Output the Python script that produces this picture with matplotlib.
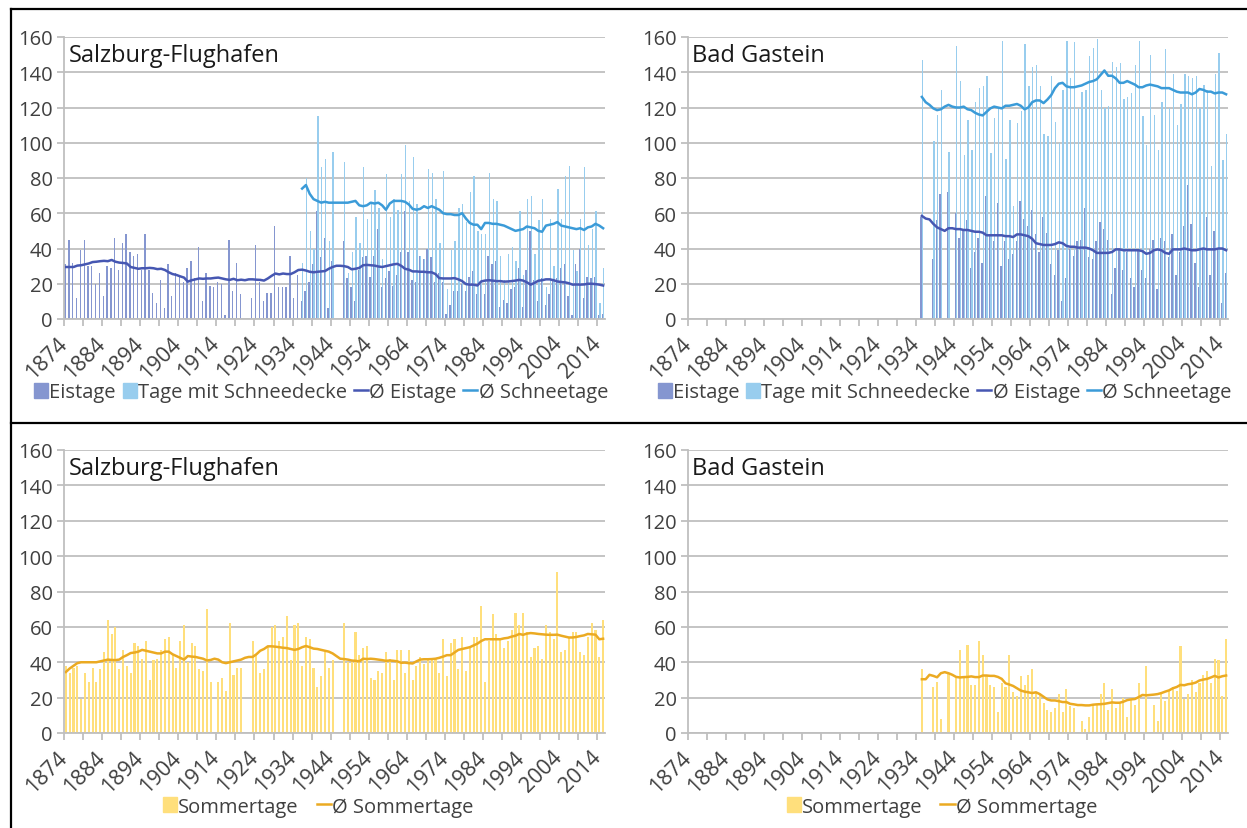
import numpy as np
import matplotlib.pyplot as plt
from matplotlib.lines import Line2D
from matplotlib.patches import Patch

nan = np.nan

# years of the category axis
years = np.arange(1874, 2016)
years_bg = np.arange(1935, 2016)
years_sbg_snow = np.arange(1936, 2016)

# Salzburg-Flughafen, Eistage (1874-2015)
sbg_eis = [
    31, 45, 32, 12, 39, 45, 30, 30, 20, 26,
    13, 30, 29, 46, 28, 43, 48, 38, 36, 37,
    28, 48, 28, 15, 9, 22, 6, 31, 13, 26,
    24, 21, 29, 33, 23, 41, 10, 26, 19, 18,
    21, 20, 2, 45, 16, 32, 14, nan, nan, 12,
    42, 21, 10, 15, 15, 53, 18, 18, 18, 36,
    12, 25, 10, 16, 21, 31, 61, 35, 46, 6,
    33, nan, nan, 44, 23, 18, 10, 28, 35, 36,
    24, 36, 51, 18, 23, 27, 19, 25, 38, 61,
    38, 22, 21, 36, 34, 40, 35, 21, 26, 21,
    3, 8, 16, 16, 20, 16, 24, 27, 14, 20,
    14, 36, 31, 33, 7, 11, 9, 17, 18, 29,
    7, 28, 50, 22, 10, 23, 8, 14, 22, 23,
    29, 31, 13, 2, 31, 40, 12, 24, 23, 24,
    2, 3,
]
# Salzburg-Flughafen, Tage mit Schneedecke (1936-2015)
sbg_snow = [
    32, 80, 50, 40, 115, 86, 91, 44, 95, nan,
    nan, 89, 26, 38, 58, 43, 86, 57, 66, 73,
    63, 34, 82, 58, 68, 62, 82, 99, 67, 92,
    65, 36, 34, 85, 83, 68, 43, 84, 17, 39,
    44, 63, 65, 55, 72, 81, 50, 48, 48, 83,
    68, 67, 36, 22, 37, 41, 33, 61, 25, 68,
    70, 37, 56, 68, 18, 57, 30, 74, 57, 81,
    87, 39, 27, 57, 86, 42, 51, 61, 9, 29,
]
sbg_eis_avg = [
    29.5, 29.5, 29.5, 30.3, 30.5, 31, 31.5, 32.3, 32.5, 32.8,
    33, 32.8, 33.5, 32.5, 32, 31.8, 31.5, 29.5, 29, 28.5,
    28.8, 28.8, 29, 28.8, 28.3, 28.5, 27.8, 26.5, 25.5, 25,
    24.2, 23.5, 21.2, 22, 22.5, 23, 22.8, 23, 23, 23.3,
    23.5, 23, 22.5, 22.2, 22.8, 22, 22.3, 22, 22.5, 22.5,
    22.3, 22.2, 21.8, 23, 24.5, 25.8, 25.3, 25.8, 25.5, 25.5,
    26.5, 27.8, 28, 27.5, 26.8, 26.5, 26.8, 27, 27.2, 28.5,
    29.5, 30.2, 30.2, 30, 29.5, 28.2, 28.5, 29, 30.5, 30.7,
    30.5, 30.3, 29.8, 29.5, 30, 30.5, 31, 31.3, 30.2, 28.5,
    28, 27, 27, 26.8, 26.8, 26.5, 26.5, 25.5, 23.2, 23,
    23, 23, 23.2, 22.5, 21.5, 19.8, 19.5, 19.5, 19, 21.3,
    21.8, 22, 21.8, 21.5, 21.5, 21.2, 21.3, 21.5, 21.8, 22.2,
    21.8, 20.8, 19.5, 20.5, 21.7, 22, 22.5, 22.5, 22, 21.3,
    21, 20.8, 20.3, 19.5, 19.6, 19.5, 19.6, 20, 20, 19.8,
    19.5, 19,
]
sbg_snow_avg = [
    74, 76, 71, 68, 67, 66, 66.5, 66, 66, 66,
    66, 66, 66, 66.5, 67, 64.5, 64, 64.5, 66, 65.5,
    66, 64.5, 62, 65.5, 67, 67, 67, 66.5, 65, 62.5,
    62, 62.5, 64, 63, 64, 63, 62, 60, 59.5, 59.5,
    59, 59, 60, 57, 54.5, 53.5, 53.5, 51, 54.5, 54.5,
    54, 54, 53.5, 53, 52, 51, 50, 50.5, 51, 52.5,
    52, 51.5, 50, 49.5, 53, 53.5, 54, 55, 53, 52.5,
    52, 51.5, 51, 51.5, 50.5, 52, 52.5, 54, 53, 51.5,
]
# Salzburg-Flughafen, Sommertage (1874-2015)
sbg_sommer = [
    38, 34, 37, 38, 19, 34, 29, 37, 29, 36,
    46, 64, 56, 60, 36, 47, 38, 34, 51, 49,
    42, 52, 30, 41, 42, 47, 53, 54, 44, 37,
    52, 61, 40, 51, 49, 36, 35, 70, 29, nan,
    29, 31, 24, 62, 33, 37, 37, nan, nan, 52,
    44, 34, 36, 49, 60, 61, 52, 54, 66, 41,
    61, 62, 38, 54, 53, 37, 26, 32, 46, 37,
    41, nan, nan, 62, 40, 40, 57, 44, 48, 49,
    31, 30, 35, 34, 46, 42, 30, 47, 47, 34,
    47, 30, 38, 43, 39, 42, 42, 42, 34, 53,
    32, 51, 53, 36, 54, 35, 48, 54, 54, 72,
    29, 52, 67, 56, 53, 48, 52, 58, 68, 61,
    68, 57, 43, 48, 49, 42, 61, 57, 53, 91,
    46, 47, 54, 57, 57, 46, 44, 54, 62, 58,
    43, 64,
]
sbg_sommer_avg = [
    34.5, 36.5, 38, 39.5, 40, 40, 40, 40, 40, 40.5,
    41, 41.5, 41.3, 41.2, 41.5, 43, 44, 45.2, 45.5, 46,
    47, 46.5, 46, 45.5, 45, 45, 46, 46, 44.5, 43.5,
    42.5, 41.5, 43.5, 43.2, 43, 42.5, 42, 41, 41.3, 42,
    41.5, 40, 39.5, 40, 40.5, 41, 41.5, 42.5, 43, 43,
    44.5, 46.5, 47.5, 49, 49, 48.8, 48.5, 48.2, 48, 47.5,
    47, 47.5, 48.5, 49.2, 48.5, 47.7, 47.5, 47, 46.5, 46,
    45, 43.5, 42, 41.8, 41.5, 41, 40.8, 40.5, 42, 41.8,
    42, 41.8, 41.5, 41.2, 40.8, 41, 40.8, 40.5, 39.7, 39.8,
    39.5, 39.3, 40.5, 41.5, 41.7, 41.7, 41.8, 42, 42.5, 43.2,
    44, 44, 45.5, 47, 47.5, 48, 48.5, 49.5, 50.5, 52,
    53, 53, 53, 53, 53, 53.5, 53.8, 54.5, 55, 56,
    55.5, 56.2, 56.5, 56.3, 56, 55.8, 55.6, 55.5, 55.5, 55.6,
    55, 54.5, 54, 54, 54.3, 54.8, 55.2, 56, 55.8, 55.6,
    53, 53.3,
]

# Bad Gastein (1935-2015)
bg_eis = [
    58, nan, nan, 34, 56, 71, nan, 72, nan, 60,
    46, 51, 56, 29, 38, 46, 32, 70, 48, 44,
    66, 30, 44, 34, 37, 44, 67, 57, 53, 62,
    48, 38, 58, 49, 31, 25, 39, 10, 23, 40,
    36, 44, 45, 63, 35, 34, 44, 55, 51, 45,
    14, 29, 40, 28, 38, 23, 18, 40, 28, 23,
    40, 45, 17, 46, 44, 35, 48, 25, 38, 53,
    76, 54, 32, 18, 40, 58, 25, 50, 40, 9,
    26,
]
bg_snow = [
    147, nan, nan, 101, 116, 130, nan, 95, nan, 155,
    135, 93, 113, 96, 123, 131, 132, 138, 94, 114,
    120, 158, 91, 113, 64, 111, 118, 156, 132, 143,
    144, 132, 105, 104, 138, 112, 100, 130, 158, 137,
    157, 120, 129, 130, 149, 154, 159, 130, 120, 121,
    146, 143, 145, 125, 126, 128, 144, 158, 115, 99,
    150, 116, 96, 123, 153, 120, 139, 110, 122, 139,
    138, 137, 138, 120, 133, 130, 87, 139, 151, 90,
    105,
]
bg_eis_avg = [
    58.5, 57, 56.5, 54, 52, 51, 50, 51.5, 51.5, 51,
    51, 50.5, 50.5, 50, 49.5, 49.5, 49, 47.5, 47.5, 47.5,
    47.5, 47.5, 47, 47, 46.5, 48, 48, 47.5, 47, 45.5,
    43, 42.5, 42, 42, 42, 42.5, 43.5, 43, 41.5, 41,
    41, 40.5, 40.5, 40.5, 40, 39, 37.5, 37.5, 37.5, 37.5,
    38, 39.5, 39.5, 39, 39, 39, 39, 39, 38.5, 37,
    37.5, 39, 39.5, 39, 37.5, 37, 39.5, 39.5, 39.5, 40,
    39.5, 39, 39, 39.5, 40, 39.5, 39.5, 39.5, 40, 40,
    39,
]
bg_snow_avg = [
    126, 123, 121.5, 119.5, 118.5, 119, 120.5, 121.5, 120.5, 120,
    120, 120.5, 119, 118.5, 117, 116, 115.5, 117.5, 119.5, 120.5,
    120, 119.5, 121, 121, 121.5, 122, 121, 119, 120, 123,
    124, 124, 122.5, 124.5, 127, 131, 133.5, 134, 132, 131.5,
    131.5, 132, 132.5, 133.5, 134.5, 135, 136, 138.5, 141, 138,
    138, 136.5, 134, 134, 135, 134, 133, 131.5, 131.5, 132.5,
    133, 132.5, 132, 131, 131, 131, 130, 129, 128.5, 128.5,
    128.5, 127.5, 128.5, 130.5, 130, 129, 129, 128, 128.5, 128.5,
    127.5,
]
bg_sommer = [
    36, nan, nan, 26, 29, 8, nan, 34, nan, 31,
    47, 31, 50, 27, 27, 52, 44, 33, 27, 26,
    12, 28, 26, 44, 23, 21, 32, 27, 33, 36,
    23, 22, 17, 13, 12, 14, 22, 12, 25, 15,
    14, nan, 7, 2, 9, 16, 16, 22, 28, 13,
    25, 14, 17, 20, 9, 20, 16, 28, nan, 38,
    nan, 16, 7, 22, 18, 24, 26, 24, 49, 19,
    22, 30, 23, 28, 33, 35, 28, 42, 41, 21,
    53,
]
bg_sommer_avg = [
    30.4, 30.4, 32.9, 32.3, 31.5, 33.8, 34.4, 33.8, 32.9, 31.7,
    31.4, 31.6, 31.7, 32, 31.6, 31.6, 32.5, 32.5, 32.3, 32.3,
    31.7, 30.6, 28.1, 27.4, 26.6, 25.3, 24, 23.4, 23, 22.6,
    23, 22, 20.5, 19, 18.4, 18.4, 18, 17.5, 17.5, 16.5,
    16.2, 15.8, 15.8, 15.6, 15.6, 16, 16.2, 16.3, 16.5, 16.9,
    17.3, 17.1, 17.1, 17.7, 18.6, 19, 19.2, 20.3, 21.5, 21.3,
    21.5, 21.7, 22, 22.6, 23.4, 24.1, 25.3, 26, 27.2, 27,
    27.6, 27.9, 28.5, 29.7, 30.2, 30.6, 31.4, 32.3, 31.4, 32.1,
    32.5,
]

c_eis = '#8596D0'
c_snow = '#98CDEE'
c_eis_line = '#4657B2'
c_snow_line = '#3B9BD8'
c_som = '#FFDF7C'
c_som_line = '#EBAA22'
txt = '#404040'

plt.rcParams['font.family'] = ['Open Sans', 'DejaVu Sans']

fig = plt.figure(figsize=(12.47, 8.29), dpi=100)
W, H = 1247., 829.


def make_ax(x0, x1, ytop, ybot, station):
    ax = fig.add_axes([x0 / W, 1 - ybot / H, (x1 - x0) / W, (ybot - ytop) / H])
    ax.set_xlim(1874, 2016)
    ax.set_ylim(0, 160)
    ax.set_yticks(range(0, 161, 20))
    ax.grid(axis='y', color='#BFBFBF', lw=1.3)
    ax.set_axisbelow(True)
    for s in ['top', 'right']:
        ax.spines[s].set_visible(False)
    for s in ['left', 'bottom']:
        ax.spines[s].set_color('#BFBFBF')
        ax.spines[s].set_linewidth(1.3)
    ticks = np.arange(1874, 2016, 5)
    ax.set_xticks(ticks)
    ax.set_xticklabels([str(t) if (t - 1874) % 10 == 0 else '' for t in ticks],
                       rotation=45, ha='right', va='center', rotation_mode='anchor')
    ax.tick_params(axis='both', colors='#BFBFBF', labelcolor=txt, labelsize=14.5,
                   length=5, width=1.3)
    ax.tick_params(axis='x', pad=10, labelsize=15.5)
    ax.tick_params(axis='y', pad=3)
    ax.text(0.008, 0.978, station, transform=ax.transAxes, fontsize=17,
            color='#1a1a1a', va='top', ha='left')
    return ax


def winter_panel(ax, yrs, eis, snow_yrs, snow, eis_avg, snow_avg):
    ax.bar(yrs + 0.3, eis, width=0.35, color=c_eis, lw=0)
    ax.bar(snow_yrs + 0.65, snow, width=0.35, color=c_snow, lw=0)
    ax.plot(yrs + 0.5, eis_avg, color=c_eis_line, lw=1.8)
    ax.plot(snow_yrs + 0.5, snow_avg, color=c_snow_line, lw=1.8)
    handles = [Patch(color=c_eis), Patch(color=c_snow),
               Line2D([], [], color=c_eis_line, lw=1.8),
               Line2D([], [], color=c_snow_line, lw=1.8)]
    labels = ['Eistage', 'Tage mit Schneedecke', 'Ø Eistage', 'Ø Schneetage']
    ax.legend(handles, labels, loc='center', bbox_to_anchor=(0.475, -0.26), ncol=4,
              frameon=False, fontsize=14.5, handlelength=0.7, handleheight=0.75,
              handletextpad=0.05, columnspacing=0.35, labelcolor=txt)


def summer_panel(ax, yrs, som, som_avg):
    ax.bar(yrs + 0.5, som, width=0.55, color=c_som, lw=0)
    ax.plot(yrs + 0.5, som_avg, color=c_som_line, lw=1.8)
    handles = [Patch(color=c_som), Line2D([], [], color=c_som_line, lw=1.8)]
    ax.legend(handles, ['Sommertage', 'Ø Sommertage'], loc='center',
              bbox_to_anchor=(0.47, -0.26), ncol=2, frameon=False, fontsize=14.5,
              handlelength=0.7, handleheight=0.75, handletextpad=0.05,
              columnspacing=0.9, labelcolor=txt)


ax1 = make_ax(64, 605, 38, 320, 'Salzburg-Flughafen')
winter_panel(ax1, years, sbg_eis, years_sbg_snow, sbg_snow, sbg_eis_avg, sbg_snow_avg)

ax2 = make_ax(688, 1228, 38, 320, 'Bad Gastein')
winter_panel(ax2, years_bg, bg_eis, years_bg, bg_snow, bg_eis_avg, bg_snow_avg)

ax3 = make_ax(64, 605, 451, 734, 'Salzburg-Flughafen')
summer_panel(ax3, years, sbg_sommer, sbg_sommer_avg)

ax4 = make_ax(688, 1228, 451, 734, 'Bad Gastein')
summer_panel(ax4, years_bg, bg_sommer, bg_sommer_avg)

# frame lines around the panels
fig.add_artist(Line2D([11 / W, 1], [1 - 10 / H, 1 - 10 / H], color='black', lw=1.6))
fig.add_artist(Line2D([11 / W, 11 / W], [0, 1 - 10 / H], color='black', lw=1.6))
fig.add_artist(Line2D([11 / W, 1], [1 - 424 / H, 1 - 424 / H], color='black', lw=1.6))

fig.savefig('out.png', dpi=100)
